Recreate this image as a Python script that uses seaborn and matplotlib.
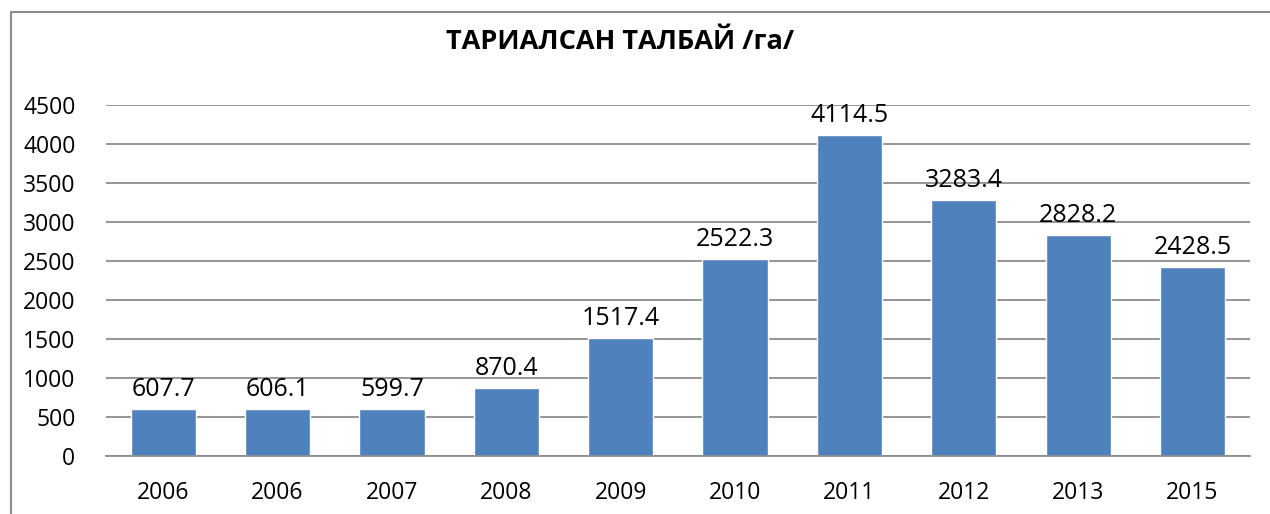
import matplotlib
matplotlib.use("Agg")
import matplotlib.pyplot as plt
import seaborn as sns
import pandas as pd
from matplotlib.lines import Line2D

# data
years = ["2006", "2006", "2007", "2008", "2009", "2010", "2011", "2012", "2013", "2015"]
area_ha = [607.7, 606.1, 599.7, 870.4, 1517.4, 2522.3, 4114.5, 3283.4, 2828.2, 2428.5]
title = "ТАРИАЛСАН ТАЛБАЙ /га/"

df = pd.DataFrame({"pos": range(len(years)), "value": area_ha})

sns.set_style("white")
plt.rcParams["font.family"] = ["Open Sans", "DejaVu Sans"]
plt.rcParams["text.color"] = "black"
plt.rcParams["xtick.color"] = "black"
plt.rcParams["ytick.color"] = "black"

fig = plt.figure(figsize=(12.7, 5.14), dpi=100)
ax = fig.add_axes([0.0835, 0.1128, 0.9005, 0.683])

sns.barplot(data=df, x="pos", y="value", color="#4F81BD", saturation=1,
            width=0.57, ax=ax)
ax.set_ylim(0, 4500)
ax.set_yticks(range(0, 4501, 500))
ax.set_xticks(range(len(years)))
ax.set_xticklabels(years)
ax.tick_params(axis="both", length=0, labelsize=16.5)
ax.tick_params(axis="x", pad=18)
ax.tick_params(axis="y", pad=22)
ax.yaxis.grid(True, color="#8C8C8C", linewidth=1.3)
ax.set_axisbelow(True)
ax.set_xlabel("")
ax.set_ylabel("")
for s in ["top", "right", "left"]:
    ax.spines[s].set_visible(False)
ax.spines["bottom"].set_color("#8C8C8C")
ax.spines["bottom"].set_linewidth(1.3)

for bars in ax.containers:
    ax.bar_label(bars, labels=[f"{v:.1f}" for v in area_ha], padding=5, fontsize=18)

fig.text(0.488, 0.918, title, ha="center", va="center", fontsize=19.5,
         fontweight="bold")

# outer chart border (cropped on right/bottom)
fig.add_artist(Line2D([10.5 / 1270, 10.5 / 1270], [0, 1 - 12 / 514],
                      transform=fig.transFigure, color="#8C8C8C", linewidth=1.5))
fig.add_artist(Line2D([10.5 / 1270, 1], [1 - 12 / 514, 1 - 12 / 514],
                      transform=fig.transFigure, color="#8C8C8C", linewidth=1.5))

fig.savefig("out.png", dpi=100)
